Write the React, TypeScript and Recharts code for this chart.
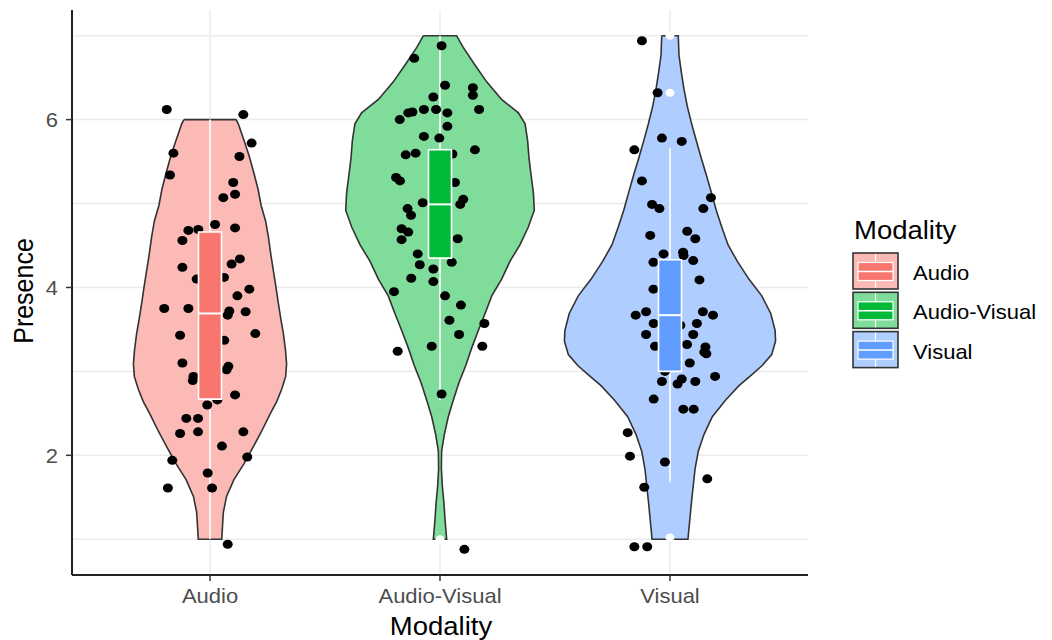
import React from "react";
import {
  ComposedChart,
  Scatter,
  XAxis,
  YAxis,
  CartesianGrid,
} from "recharts";

// --- Data ---

const categories = ["Audio", "Audio-Visual", "Visual"];
const fills = ["#F8766D", "#00BA38", "#619CFF"];
const lightFills = ["#FBBAB6", "#7FDC9B", "#B0CDFF"];

// violin outline: y level -> half width (in category units)
const audioViolinY = [6.0, 5.95, 5.75, 5.56, 5.36, 5.17, 4.98, 4.79, 4.6, 4.4, 4.21, 4.02, 3.83, 3.64, 3.45, 3.26, 3.09, 2.94, 2.79, 2.64, 2.49, 2.29, 2.1, 1.9, 1.71, 1.51, 1.32, 1.0];
const audioViolinHalf = [0.113, 0.123, 0.148, 0.171, 0.191, 0.209, 0.222, 0.242, 0.254, 0.264, 0.275, 0.286, 0.296, 0.307, 0.319, 0.328, 0.333, 0.329, 0.312, 0.29, 0.261, 0.225, 0.188, 0.148, 0.104, 0.072, 0.058, 0.051];

const avViolinY = [7.0, 6.86, 6.65, 6.45, 6.24, 6.08, 5.95, 5.75, 5.54, 5.34, 5.13, 4.92, 4.72, 4.51, 4.31, 4.1, 3.9, 3.69, 3.49, 3.28, 3.07, 2.87, 2.66, 2.46, 2.25, 2.05, 1.84, 1.64, 1.43, 1.23, 1.0];
const avViolinHalf = [0.072, 0.101, 0.152, 0.203, 0.268, 0.341, 0.37, 0.381, 0.387, 0.396, 0.406, 0.41, 0.384, 0.348, 0.304, 0.268, 0.225, 0.196, 0.167, 0.138, 0.112, 0.083, 0.058, 0.036, 0.019, 0.007, 0.006, 0.01, 0.017, 0.022, 0.029];

const visualViolinY = [7.0, 6.77, 6.57, 6.36, 6.16, 5.95, 5.75, 5.54, 5.34, 5.13, 4.92, 4.72, 4.51, 4.31, 4.1, 3.9, 3.69, 3.49, 3.36, 3.2, 3.07, 2.95, 2.83, 2.66, 2.46, 2.25, 2.05, 1.84, 1.43, 1.0];
const visualViolinHalf = [0.036, 0.039, 0.049, 0.061, 0.075, 0.094, 0.114, 0.136, 0.158, 0.18, 0.201, 0.225, 0.252, 0.293, 0.343, 0.399, 0.438, 0.457, 0.459, 0.442, 0.401, 0.351, 0.3, 0.242, 0.184, 0.148, 0.123, 0.109, 0.093, 0.078];

// boxplot stats: [lower whisker, Q1, median, Q3, upper whisker]
const audioBox = [1.0, 2.67, 3.69, 4.66, 6.0];
const avBox = [2.66, 4.35, 4.99, 5.64, 7.0];
const visualBox = [1.68, 3.0, 3.67, 4.33, 5.66];
const boxHalfWidth = 0.05;

const avOutliers = [1.0];
const visualOutliers = [7.0, 6.32, 1.02];

// jittered observations [x, y]
const audioPoints = [
  [0.812, 6.12], [1.145, 6.06], [1.181, 5.72], [0.841, 5.6], [1.128, 5.56],
  [0.826, 5.34], [1.101, 5.25], [1.109, 5.11], [1.058, 5.07], [0.906, 4.68],
  [0.949, 4.69], [1.022, 4.75], [1.109, 4.71], [0.88, 4.56], [1.13, 4.34],
  [1.094, 4.28], [0.88, 4.24], [0.942, 4.1], [1.061, 4.12], [1.171, 3.98],
  [1.119, 3.9], [0.801, 3.75], [0.906, 3.75], [1.084, 3.72], [1.077, 3.67],
  [1.155, 3.71], [1.197, 3.45], [0.87, 3.43], [1.062, 3.37], [0.88, 3.1],
  [1.08, 3.06], [1.072, 3.02], [0.928, 2.94], [0.925, 2.89], [1.109, 2.72],
  [0.988, 2.6], [1.032, 2.66], [0.897, 2.44], [0.948, 2.44], [0.87, 2.26],
  [0.948, 2.28], [1.145, 2.28], [1.052, 2.11], [0.836, 1.94], [1.162, 1.98],
  [0.99, 1.79], [0.817, 1.61], [1.009, 1.61], [1.077, 0.94],
];

const avPoints = [
  [2.007, 6.88], [1.888, 6.73], [2.022, 6.41], [2.143, 6.38], [2.143, 6.29],
  [1.971, 6.27], [2.17, 6.12], [1.93, 6.12], [1.88, 6.09], [1.862, 6.08],
  [1.983, 6.12], [2.032, 6.08], [1.825, 6.0], [2.032, 5.92], [1.93, 5.8],
  [1.997, 5.78], [2.152, 5.64], [1.851, 5.58], [1.894, 5.6], [2.054, 5.59],
  [1.809, 5.31], [1.826, 5.27], [2.065, 5.25], [1.925, 5.01], [2.101, 5.05],
  [2.088, 4.99], [1.859, 4.94], [1.874, 4.86], [1.833, 4.7], [1.862, 4.66],
  [1.833, 4.57], [2.077, 4.58], [1.903, 4.4], [1.912, 4.27], [2.051, 4.3],
  [1.971, 4.22], [1.875, 4.11], [1.971, 4.07], [1.8, 3.95], [2.022, 3.9],
  [2.091, 3.79], [2.041, 3.61], [2.193, 3.57], [2.083, 3.44], [1.964, 3.3],
  [2.184, 3.3], [1.816, 3.24], [2.007, 2.73], [2.106, 0.88],
];

const visualPoints = [
  [2.878, 6.94], [2.946, 6.32], [2.965, 5.78], [3.051, 5.74], [2.845, 5.64],
  [2.878, 5.27], [3.178, 5.07], [2.922, 4.99], [2.954, 4.94], [3.145, 4.94],
  [3.075, 4.67], [3.11, 4.58], [2.914, 4.62], [2.972, 4.4], [3.057, 4.42],
  [3.059, 4.38], [3.101, 4.32], [2.928, 4.3], [3.128, 4.09], [2.928, 3.98],
  [2.896, 3.71], [2.851, 3.67], [3.143, 3.71], [3.187, 3.67], [2.929, 3.57],
  [3.045, 3.55], [3.117, 3.57], [2.896, 3.44], [3.101, 3.44], [2.935, 3.3],
  [3.074, 3.32], [3.154, 3.29], [3.149, 3.23], [3.158, 3.21], [3.086, 3.1],
  [2.978, 3.0], [3.196, 2.94], [2.965, 2.88], [3.033, 2.85], [3.051, 2.91],
  [3.11, 2.88], [2.929, 2.67], [3.058, 2.55], [3.103, 2.55], [2.816, 2.27],
  [2.826, 1.99], [2.978, 1.92], [3.162, 1.72], [2.888, 1.62], [2.845, 0.91],
  [2.901, 0.91],
];

const yTicks = [2, 4, 6];
const yGrid = [1, 2, 3, 4, 5, 6, 7];

// --- helpers building Recharts data from the arrays ---

const outline = (c: number, ys: number[], hs: number[]) => {
  const left = ys.map((y, i) => ({ x: c - hs[i], y }));
  const right = ys.map((y, i) => ({ x: c + hs[i], y })).reverse();
  return [...left, ...right, left[0]];
};

const boxRect = (c: number, s: number[]) => [
  { x: c - boxHalfWidth, y: s[1] },
  { x: c + boxHalfWidth, y: s[1] },
  { x: c + boxHalfWidth, y: s[3] },
  { x: c - boxHalfWidth, y: s[3] },
  { x: c - boxHalfWidth, y: s[1] },
];

const toXY = (pts: number[][]) => pts.map(([x, y]) => ({ x, y }));

const violins = [
  outline(1, audioViolinY, audioViolinHalf),
  outline(2, avViolinY, avViolinHalf),
  outline(3, visualViolinY, visualViolinHalf),
];
const boxes = [audioBox, avBox, visualBox];
const pointSets = [toXY(audioPoints), toXY(avPoints), toXY(visualPoints)];
const outlierSets = [
  [] as { x: number; y: number }[],
  avOutliers.map((y) => ({ x: 2, y })),
  visualOutliers.map((y) => ({ x: 3, y })),
];

const FONT = '"Liberation Sans", Arial, sans-serif';

const NoShape = () => <g />;
const Dot = (p: any) => (
  <ellipse cx={p.cx} cy={p.cy} rx={5} ry={4.5} fill="#000" />
);
const WhiteDot = (p: any) => (
  <ellipse cx={p.cx} cy={p.cy} rx={4.5} ry={4} fill="#fff" />
);

const XTick = (p: any) => (
  <text
    transform={`translate(${p.x},${p.y + 20}) scale(1.1,1)`}
    textAnchor="middle"
    fontSize={20}
    fill="#4D4D4D"
    fontFamily={FONT}
  >
    {categories[Math.round(p.payload.value) - 1]}
  </text>
);

const YTick = (p: any) => (
  <text
    transform={`translate(${p.x - 6},${p.y + 7.5}) scale(1.1,1)`}
    textAnchor="end"
    fontSize={20}
    fill="#4D4D4D"
    fontFamily={FONT}
  >
    {p.payload.value}
  </text>
);

const LegendOverlay = () => (
  <svg
    width={1052}
    height={640}
    style={{ position: "absolute", left: 0, top: 0, pointerEvents: "none" }}
  >
    <text
      transform="translate(441,635) scale(1.1,1)"
      textAnchor="middle"
      fontSize={25}
      fontFamily={FONT}
      fill="#000"
    >
      Modality
    </text>
    <text
      transform="translate(33,291) scale(1.1,1) rotate(-90)"
      textAnchor="middle"
      fontSize={25}
      fontFamily={FONT}
      fill="#000"
    >
      Presence
    </text>
    <text
      transform="translate(854,239) scale(1.1,1)"
      fontSize={25}
      fontFamily={FONT}
      fill="#000"
    >
      Modality
    </text>
    {categories.map((name, i) => {
      const top = 253 + i * 39.3;
      return (
        <g key={name}>
          <rect
            x={853}
            y={top}
            width={45}
            height={36}
            fill={lightFills[i]}
            stroke="#333"
            strokeWidth={1.6}
          />
          <line x1={875.5} x2={875.5} y1={top + 1} y2={top + 35} stroke="#fff" strokeWidth={1.2} />
          <rect
            x={858}
            y={top + 9.5}
            width={35}
            height={18}
            fill={fills[i]}
            stroke="#fff"
            strokeWidth={1.2}
          />
          <line x1={858} x2={893} y1={top + 18.5} y2={top + 18.5} stroke="#fff" strokeWidth={1.5} />
          <text
            transform={`translate(913,${top + 27}) scale(1.1,1)`}
            fontSize={20}
            fontFamily={FONT}
            fill="#000"
          >
            {name}
          </text>
        </g>
      );
    })}
  </svg>
);

const App = () => {
  return (
    <div style={{ position: "absolute", left: 0, top: 0, width: 1052, height: 640, background: "#fff" }}>
      <ComposedChart
        width={1052}
        height={640}
        margin={{ top: 10, right: 244, bottom: 0, left: 0 }}
      >
        <CartesianGrid
          stroke="#EBEBEB"
          strokeWidth={1.5}
          horizontalValues={yGrid}
          verticalValues={[1, 2, 3]}
        />
        <XAxis
          type="number"
          dataKey="x"
          domain={[0.4, 3.6]}
          allowDataOverflow
          ticks={[1, 2, 3]}
          height={65}
          tick={<XTick />}
          tickSize={6}
          axisLine={{ stroke: "#222", strokeWidth: 2 }}
          tickLine={{ stroke: "#333", strokeWidth: 1.5 }}
        />
        <YAxis
          type="number"
          dataKey="y"
          domain={[0.574, 7.306]}
          allowDataOverflow
          ticks={yTicks}
          width={72}
          tick={<YTick />}
          tickSize={6}
          axisLine={{ stroke: "#222", strokeWidth: 2 }}
          tickLine={{ stroke: "#333", strokeWidth: 1.5 }}
        />
        {violins.map((d, i) => (
          <Scatter
            key={`v${i}`}
            data={d}
            shape={<NoShape />}
            line={{ fill: lightFills[i], stroke: "#333", strokeWidth: 1.6 }}
            isAnimationActive={false}
          />
        ))}
        {boxes.map((s, i) => (
          <Scatter
            key={`w${i}`}
            data={[{ x: i + 1, y: s[0] }, { x: i + 1, y: s[4] }]}
            shape={<NoShape />}
            line={{ fill: "none", stroke: "#fff", strokeWidth: 1.6 }}
            isAnimationActive={false}
          />
        ))}
        {pointSets.map((d, i) => (
          <Scatter
            key={`p${i}`}
            data={d}
            shape={<Dot />}
            isAnimationActive={false}
          />
        ))}
        {boxes.map((s, i) => (
          <Scatter
            key={`b${i}`}
            data={boxRect(i + 1, s)}
            shape={<NoShape />}
            line={{ fill: fills[i], stroke: "#fff", strokeWidth: 1.6 }}
            isAnimationActive={false}
          />
        ))}
        {boxes.map((s, i) => (
          <Scatter
            key={`m${i}`}
            data={[{ x: i + 1 - boxHalfWidth, y: s[2] }, { x: i + 1 + boxHalfWidth, y: s[2] }]}
            shape={<NoShape />}
            line={{ fill: "none", stroke: "#fff", strokeWidth: 2 }}
            isAnimationActive={false}
          />
        ))}
        {outlierSets.map((d, i) => (
          <Scatter
            key={`o${i}`}
            data={d}
            shape={<WhiteDot />}
            isAnimationActive={false}
          />
        ))}
      </ComposedChart>
      <LegendOverlay />
    </div>
  );
};

export default App;
